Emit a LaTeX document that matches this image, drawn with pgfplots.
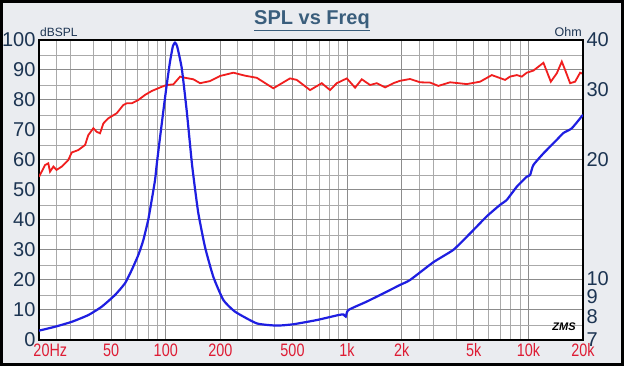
\documentclass[border=0pt]{standalone}
\usepackage{fontspec}
\setmainfont{Liberation Sans}
\newfontfamily\narrowfont[FakeStretch=0.8]{Liberation Sans}
\usepackage{pgfplots}
\usepackage{pgfplotstable}
\pgfplotsset{compat=1.18}
\definecolor{bgpanel}{RGB}{234,236,240}
\definecolor{navy}{RGB}{28,52,82}
\definecolor{titleblue}{RGB}{58,94,124}
\definecolor{xlabred}{RGB}{222,28,52}
\definecolor{splred}{RGB}{240,30,30}
\definecolor{zblue}{RGB}{30,30,225}
\definecolor{gridmaj}{RGB}{140,140,140}
\definecolor{gridmin}{RGB}{170,170,170}

\pgfplotstableread{
f db
20 54.4
21.6 58.3
22.5 58.9
23.0 56.1
24.0 57.8
25.0 56.7
26.7 57.8
29.0 60.0
30.3 62.5
32.9 63.3
35.9 65.0
37.4 68.3
39.9 70.6
41.6 69.4
43.4 68.9
45.3 72.2
48.2 73.9
53.7 75.6
58.3 78.3
60.9 78.9
64.9 78.9
70.6 80.0
76.9 81.7
83.7 83.0
95.0 84.4
101.2 85.0
110.1 85.2
120.0 87.8
127.8 87.4
142.0 86.9
154.6 85.6
175.5 86.3
199.2 88.0
236.0 89.1
273.8 88.1
317.6 87.4
392.0 83.9
484.6 87.2
527.8 86.7
625.1 83.3
725.0 85.6
805.8 83.3
877.1 85.6
996.8 87.2
1107 84.1
1205 86.9
1339 85.0
1459 85.6
1620 84.2
1800 85.6
1960 86.4
2225 87.0
2527 85.9
2869 85.8
3188 84.7
3699 85.9
4573 85.3
5413 86.1
6282 88.3
7436 86.7
7925 87.8
8630 88.3
9196 87.8
9795 89.1
10650 89.8
12100 92.4
13290 86.1
14340 88.9
15280 92.8
15940 90.0
16980 85.6
18090 86.1
19280 89.1
20000 88.7
}\spltable

\pgfplotstableread{
f z
20 7.39
24.5 7.56
30.3 7.78
37.4 8.09
44.3 8.49
52.5 9.09
59.6 9.73
64.9 10.51
70.6 11.47
75.2 12.5
80.1 14.09
83.7 15.8
87.3 17.74
89.5 19.7
96.9 26.4
101.2 30.8
105.6 35.3
109.5 38.6
112.5 39.4
115.5 38.6
122.6 33.9
130.6 26.4
139.1 19.7
144.1 17.23
151.3 14.6
164.7 12.0
183.0 10.1
207.8 8.83
241.1 8.25
317.6 7.71
409.4 7.61
505.3 7.67
680.6 7.86
895 8.09
954 8.12
983 8.02
1016 8.33
1284 8.75
1656 9.27
1960 9.64
2225 9.92
2992 11.0
3857 11.82
4768 13.0
5895 14.36
6977 15.35
7600 15.8
8630 17.06
9795 18.08
10210 18.25
10650 19.35
12100 20.7
14340 22.4
15590 23.3
17350 23.95
20000 25.9
}\ztable

\begin{document}
\begin{tikzpicture}[x=1pt,y=1pt]
\fill[bgpanel] (-39,-26) rectangle (585,340);
\draw[black, line width=3pt] (-37.5,-24.5) rectangle (583.5,338.5);
\begin{axis}[at={(0,0)}, anchor=south west, scale only axis,
 width=544pt, height=300pt,
 xmode=log, xmin=20, xmax=20000, ymin=0, ymax=100,
 axis background/.style={fill=white},
 xtick={20,50,100,200,500,1000,2000,5000,10000,20000},
 xticklabels={\hspace*{5pt}20\rlap{Hz},50,100,200,500,1k,2k,5k,10k,20k},
 minor xtick={25,30,40,60,70,80,90,250,300,400,600,700,800,900,2500,3000,4000,6000,7000,8000,9000},
 ytick={0,10,...,100},
 yticklabels={0,10,20,30,40,50,60,70,80,90,100},
 minor ytick={5,15,...,95},
 grid=both,
 major grid style={gridmaj, line width=1pt},
 minor grid style={gridmin, line width=0.9pt},
 major tick length=0pt, minor tick length=0pt,
 xtick pos=bottom, ytick pos=left,
 axis line style={black, line width=1.2pt},
 xticklabel style={font=\narrowfont\fontsize{18}{18}\selectfont, text=xlabred},
 yticklabel style={font=\fontsize{20}{20}\selectfont, text=navy},
 /pgf/number format/assume math mode=true,
]
\addplot[splred, line width=1.8pt] table[x=f, y=db] {\spltable};
\end{axis}
\begin{axis}[at={(0,0)}, anchor=south west, scale only axis,
 width=544pt, height=300pt,
 xmode=log, xmin=20, xmax=20000, ymode=log, ymin=7, ymax=40,
 hide x axis, axis y line*=right,
 ytick={7,8,9,10,20,30,40},
 yticklabels={7,8,9,10,20,30,40},
 minor ytick={},
 major tick length=0pt, minor tick length=0pt,
 axis line style={black, line width=1.2pt},
 yticklabel style={font=\fontsize{20}{20}\selectfont, text=navy},
 /pgf/number format/assume math mode=true,
]
\addplot[zblue, line width=2.2pt, smooth, tension=0.3] table[x=f, y=z] {\ztable};
\end{axis}
\node[anchor=south west, inner sep=0pt, text=navy, font=\fontsize{12}{12}\selectfont] at (1,303) {dBSPL};
\node[anchor=south east, inner sep=0pt, text=navy, font=\fontsize{12.5}{12.5}\selectfont] at (543,303) {Ohm};
\node[inner sep=0pt, text=titleblue, font=\bfseries\fontsize{20}{20}\selectfont] at (273,319) {\underline{SPL vs Freq}};
\node[inner sep=0pt, font=\bfseries\itshape\fontsize{11}{11}\selectfont] at (525,13) {ZMS};
\pgfresetboundingbox
\path[use as bounding box] (-39,-26) rectangle (585,340);
\end{tikzpicture}
\end{document}
